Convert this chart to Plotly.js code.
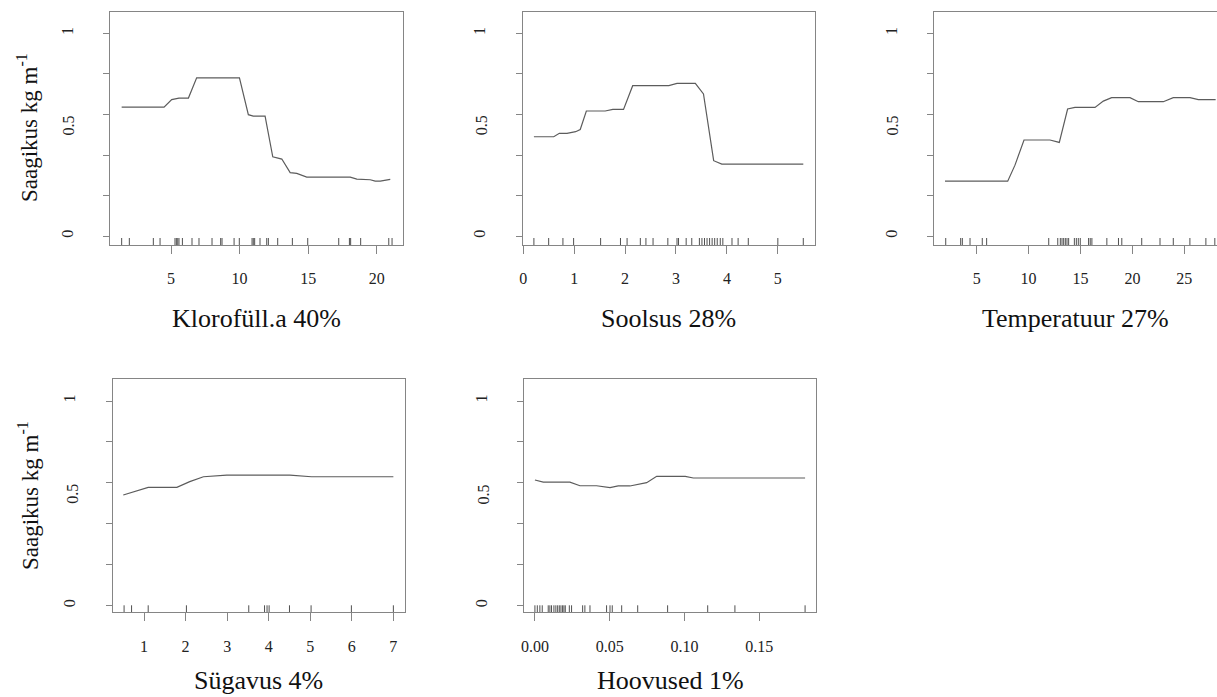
<!DOCTYPE html>
<html><head><meta charset="utf-8">
<script src="https://cdn.plot.ly/plotly-3.0.1.min.js"></script>
<style>html,body{margin:0;padding:0;background:#fff;overflow:hidden}#plot{width:1217px;height:697px}</style>
</head><body><div id="plot"></div>
<script>
// ---- data ----
const yTitle = "Saagikus kg m<sup>-1</sup>";
const xTitles = ["Klorofüll.a 40%", "Soolsus 28%", "Temperatuur 27%", "Sügavus 4%", "Hoovused 1%"];

const chlX = [1.4, 4.49, 5.05, 5.58, 6.27, 6.87, 9.99, 10.64, 11.0, 11.86, 12.42, 12.71, 13.08, 13.69, 14.17, 14.9, 18.07, 18.55, 19.53, 19.89, 20.26, 20.99];
const chlY = [0.636, 0.636, 0.673, 0.681, 0.681, 0.781, 0.781, 0.599, 0.592, 0.592, 0.391, 0.385, 0.380, 0.313, 0.309, 0.291, 0.291, 0.281, 0.278, 0.271, 0.271, 0.280];
const chlRug = [1.40, 1.96, 3.71, 4.20, 5.29, 5.39, 5.49, 5.58, 5.83, 6.53, 7.04, 7.99, 8.62, 8.72, 9.60, 9.98, 10.91, 11.00, 11.10, 11.49, 11.98, 12.10, 12.78, 13.85, 14.97, 17.23, 18.01, 18.10, 18.83, 20.88, 21.12];

const salX = [0.21, 0.60, 0.71, 0.86, 1.03, 1.12, 1.24, 1.61, 1.76, 1.97, 2.15, 2.86, 3.02, 3.38, 3.54, 3.62, 3.74, 3.90, 5.50];
const salY = [0.490, 0.490, 0.507, 0.507, 0.515, 0.526, 0.617, 0.617, 0.625, 0.625, 0.742, 0.742, 0.753, 0.753, 0.701, 0.560, 0.372, 0.355, 0.355];
const salRug = [0.21, 0.50, 0.78, 0.99, 1.52, 1.91, 2.04, 2.30, 2.41, 2.55, 2.84, 3.02, 3.05, 3.20, 3.31, 3.46, 3.51, 3.56, 3.61, 3.66, 3.71, 3.76, 3.81, 3.87, 3.92, 4.10, 4.22, 4.42, 5.00, 5.50];

const tempX = [1.95, 7.99, 8.69, 9.56, 12.06, 12.96, 13.76, 14.47, 16.40, 17.20, 18.0, 19.77, 20.57, 22.98, 23.94, 25.55, 26.35, 28.02];
const tempY = [0.271, 0.271, 0.350, 0.474, 0.474, 0.462, 0.627, 0.635, 0.635, 0.666, 0.683, 0.683, 0.663, 0.663, 0.683, 0.683, 0.673, 0.673];
const tempRug = [2.02, 3.46, 3.62, 4.36, 5.54, 5.96, 11.94, 12.81, 13.06, 13.22, 13.38, 13.54, 13.70, 13.86, 14.41, 14.60, 14.79, 14.98, 15.78, 15.94, 16.10, 17.54, 18.66, 18.98, 20.90, 22.66, 23.94, 25.54, 27.08, 27.94];

const depX = [0.50, 1.10, 1.79, 2.10, 2.43, 2.99, 4.51, 5.03, 7.00];
const depY = [0.541, 0.578, 0.578, 0.606, 0.630, 0.638, 0.638, 0.630, 0.630];
const depRug = [0.52, 0.70, 1.10, 2.02, 3.52, 3.90, 3.96, 4.01, 4.50, 5.02, 5.99, 7.00];

const curX = [0.0, 0.0056, 0.0234, 0.0301, 0.0412, 0.0457, 0.0502, 0.0557, 0.0635, 0.0747, 0.0814, 0.1005, 0.1059, 0.1806];
const curY = [0.614, 0.604, 0.604, 0.586, 0.586, 0.581, 0.577, 0.585, 0.585, 0.601, 0.632, 0.632, 0.624, 0.624];
const curRug = [0.000, 0.0016, 0.0033, 0.0049, 0.0089, 0.0100, 0.0111, 0.0127, 0.0140, 0.0152, 0.0163, 0.0174, 0.0185, 0.0194, 0.0203, 0.0230, 0.0245, 0.0319, 0.0334, 0.0368, 0.0479, 0.0502, 0.0517, 0.0580, 0.0687, 0.0887, 0.1155, 0.1337, 0.1806];

const xTicks = [[5, 10, 15, 20], [0, 1, 2, 3, 4, 5], [5, 10, 15, 20, 25], [1, 2, 3, 4, 5, 6, 7], [0, 0.05, 0.10, 0.15]];
const yLabelVals = [0, 1];
const yMinorVals = [0.2, 0.4, 0.6, 0.8];

// ---- layout (pixel boxes of the panels) ----
const W = 1217, H = 697;
const boxes = [
  {l: 110, r: 403.3, t: 11.7, b: 245, xr: [0.55, 21.94], yr: [-0.044, 1.107], mirrorY: true},
  {l: 522.7, r: 815, t: 11.7, b: 245, xr: [-0.01, 5.73], yr: [-0.044, 1.107], mirrorY: true},
  {l: 934, r: 1217, t: 11.7, b: 245, xr: [0.89, 28.15], yr: [-0.044, 1.107], mirrorY: false},
  {l: 112.7, r: 405, t: 379.3, b: 612.3, xr: [0.246, 7.28], yr: [-0.032, 1.106], mirrorY: true},
  {l: 524.3, r: 816, t: 379.3, b: 612.3, xr: [-0.0071, 0.1879], yr: [-0.032, 1.106], mirrorY: true}
];
const series = [[chlX, chlY, chlRug], [salX, salY, salRug], [tempX, tempY, tempRug], [depX, depY, depRug], [curX, curY, curRug]];

const FONT = "Liberation Serif, Times New Roman, serif";
const boxColor = "#858585";
const tickFont = {family: FONT, size: 16, color: "#222"};
const traces = [], layout = {
  width: W, height: H, margin: {l: 0, r: 0, t: 0, b: 0},
  paper_bgcolor: "#fff", plot_bgcolor: "#fff", showlegend: false,
  font: {family: FONT, color: "#222"}, annotations: []
};

boxes.forEach((bx, i) => {
  const n = i + 1;
  const xa = n === 1 ? "x" : "x" + n, ya = n === 1 ? "y" : "y" + n;
  const xk = n === 1 ? "xaxis" : "xaxis" + n, yk = n === 1 ? "yaxis" : "yaxis" + n;
  const [sx, sy, rug] = series[i];
  traces.push({x: sx, y: sy, xaxis: xa, yaxis: ya, type: "scatter", mode: "lines",
    line: {color: "#5c5c5c", width: 1.2}, hoverinfo: "skip"});
  // rug: short ticks rising from the bottom of the box
  const pxPerUnit = (bx.b - bx.t) / (bx.yr[1] - bx.yr[0]);
  const y0 = bx.yr[0], y1 = bx.yr[0] + 7 / pxPerUnit;
  const rx = [], ry = [];
  rug.forEach(v => { rx.push(v, v, null); ry.push(y0, y1, null); });
  traces.push({x: rx, y: ry, xaxis: xa, yaxis: ya, type: "scatter", mode: "lines",
    line: {color: "#505050", width: 1}, hoverinfo: "skip"});

  layout[xk] = {
    domain: [bx.l / W, bx.r / W], range: bx.xr, anchor: ya,
    showgrid: false, zeroline: false, showline: true, mirror: true,
    linecolor: boxColor, linewidth: 1,
    ticks: "outside", ticklen: 8, tickcolor: boxColor, tickwidth: 1,
    tickvals: xTicks[i], tickformat: i === 4 ? ".2f" : "",
    ticklabelstandoff: 11,
    tickfont: tickFont
  };
  layout[yk] = {
    domain: [1 - bx.b / H, 1 - bx.t / H], range: bx.yr, anchor: xa,
    showgrid: false, zeroline: false, showline: true, mirror: bx.mirrorY,
    linecolor: boxColor, linewidth: 1,
    ticks: "outside", ticklen: 6, tickcolor: boxColor, tickwidth: 1,
    tickvals: yLabelVals, tickangle: -90,
    minor: {tickvals: yMinorVals, ticks: "outside", ticklen: 6, tickcolor: boxColor, tickwidth: 1, showgrid: false},
    ticklabelstandoff: 24,
    tickfont: tickFont
  };
  // "0.5" label of the y axis
  layout.annotations.push({text: "0.5", xref: "paper", yref: ya, x: (bx.l - 41) / W, y: 0.545,
    xanchor: "center", yanchor: "middle", textangle: -90, showarrow: false, font: tickFont});
  // x axis title
  const xc = i === 2 ? 1075 : (bx.l + bx.r) / 2;
  const yc = i < 3 ? 318 : 680;
  layout.annotations.push({text: xTitles[i], xref: "paper", yref: "paper", x: xc / W, y: 1 - yc / H,
    xanchor: "center", yanchor: "middle", showarrow: false,
    font: {family: FONT, size: 26, color: "#111"}});
});
// y axis titles (left column)
[128, 496].forEach(yc => {
  layout.annotations.push({text: yTitle, xref: "paper", yref: "paper", x: 28 / W, y: 1 - yc / H,
    xanchor: "center", yanchor: "middle", textangle: -90, showarrow: false,
    font: {family: FONT, size: 23, color: "#111"}});
});

Plotly.newPlot("plot", traces, layout, {staticPlot: true, displayModeBar: false});
</script></body></html>
